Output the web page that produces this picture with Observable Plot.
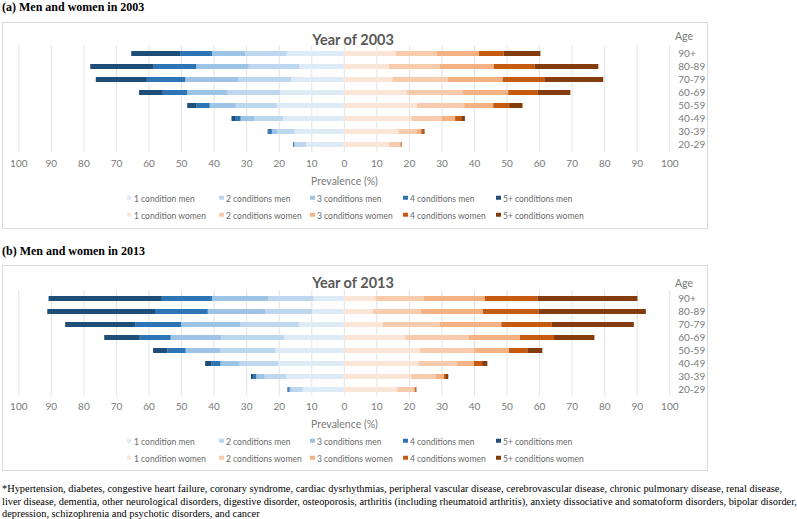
<!DOCTYPE html>
<html><head><meta charset="utf-8">
<script src="https://cdn.jsdelivr.net/npm/d3@7"></script>
<script src="https://cdn.jsdelivr.net/npm/@observablehq/plot@0.6"></script>
<style>
html,body{margin:0;padding:0;background:#fff;}
body{width:797px;height:519px;position:relative;overflow:hidden;font-family:Lato,"Open Sans",sans-serif;}
.heading{position:absolute;left:2px;font-family:"Liberation Serif","Times New Roman",serif;font-weight:bold;font-size:12px;line-height:13px;color:#000;white-space:nowrap;transform:translateY(-50%);}
.frame{position:absolute;left:2px;width:704px;border:1px solid #d9d9d9;}
.frame svg{position:absolute;left:0;top:0;}
.t{position:absolute;white-space:nowrap;color:#595959;line-height:1.2;}
.c{transform:translate(-50%,-50%);}
.l{transform:translateY(-50%);}
.ptitle{font-weight:bold;font-size:14.5px;}
.axlab{font-size:10.5px;}
.leg{font-size:10px;transform-origin:0 50%;}
.sw{position:absolute;width:4.5px;height:4.5px;transform:translateY(-50%);}
.foot{position:absolute;left:2px;font-family:"Liberation Serif","Times New Roman",serif;font-size:10.5px;color:#000;white-space:nowrap;transform-origin:0 50%;}
</style></head>
<body>
<script>
// ---- data ----
const ages = ["90+","80-89","70-79","60-69","50-59","40-49","30-39","20-29"];
const levels = ["1 condition","2 conditions","3 conditions","4 conditions","5+ conditions"];
const tickValues = [-100,-90,-80,-70,-60,-50,-40,-30,-20,-10,0,10,20,30,40,50,60,70,80,90,100];
const menColors = ["#deebf7","#bdd7ee","#9dc3e6","#2e75b6","#1f4e79"];
const womenColors = ["#fbe5d6","#f8cbad","#f4b183","#c55a11","#843c0c"];

// prevalence (%) per age group (rows) for 1,2,3,4,5+ conditions (columns)
const men2003 = [
  [17.5,12.7,10.3,9.8,15.0],
  [13.6,15.6,16.1,13.1,19.5],
  [16.1,16.3,16.3,11.8,15.7],
  [19.5,16.2,12.4,7.5,7.3],
  [20.6,12.6,8.0,4.0,2.9],
  [18.7,8.7,4.3,1.7,1.1],
  [15.1,5.3,1.7,1.0,0.3],
  [11.6,3.4,0.3,0.2,0.1]
];
const women2003 = [
  [15.9,12.7,12.9,7.6,11.3],
  [13.8,15.6,16.7,12.5,19.6],
  [14.9,17.0,16.9,13.0,17.9],
  [19.4,17.1,14.0,9.1,10.0],
  [22.5,14.5,8.9,4.9,4.1],
  [20.8,9.3,4.1,1.9,1.1],
  [16.8,5.5,1.5,0.6,0.4],
  [13.8,3.5,0.2,0.2,0.1]
];
const men2013 = [
  [9.3,13.9,17.3,15.4,34.8],
  [9.8,14.4,17.6,16.2,33.1],
  [13.8,18.0,18.2,14.1,21.5],
  [18.3,19.3,15.6,9.5,10.9],
  [21.0,16.9,10.7,5.6,4.4],
  [20.2,11.8,5.9,2.7,2.0],
  [17.7,6.6,2.6,0.8,0.8],
  [12.6,3.4,0.7,0.4,0.2]
];
const women2013 = [
  [9.7,14.8,18.8,16.2,30.7],
  [8.9,14.7,19.1,17.2,32.9],
  [12.0,17.4,19.0,15.5,25.2],
  [18.9,19.4,15.8,10.5,12.4],
  [23.3,16.8,10.6,5.7,4.6],
  [23.1,11.7,5.2,2.5,1.6],
  [20.7,7.5,2.5,0.7,0.7],
  [16.4,5.0,0.4,0.3,0.2]
];
const footLines = [
  "*Hypertension, diabetes, congestive heart failure, coronary syndrome, cardiac dysrhythmias, peripheral vascular disease, cerebrovascular disease, chronic pulmonary disease, renal disease,",
  "liver disease, dementia, other neurological disorders, digestive disorder, osteoporosis, arthritis (including rheumatoid arthritis), anxiety dissociative and somatoform disorders, bipolar disorder,",
  "depression, schizophrenia and psychotic disorders, and cancer"
];

// ---- build ----
const menKeys = levels.map(l => l + " men");
const womenKeys = levels.map(l => l + " women");

function makeRows(men, women) {
  const rows = [];
  ages.forEach((age, i) => levels.forEach((lv, j) => rows.push({age, key: menKeys[j], value: -men[i][j]})));
  ages.forEach((age, i) => levels.forEach((lv, j) => rows.push({age, key: womenKeys[j], value: women[i][j]})));
  return rows;
}

function el(tag, cls, parent, css, text) {
  const e = document.createElement(tag);
  if (cls) e.className = cls;
  if (css) Object.assign(e.style, css);
  if (text != null) e.textContent = text;
  parent.appendChild(e);
  return e;
}

// legend text condensed so that "2 conditions women" is ~75.7px wide
const probe = el("span", "t leg", document.body, {left: "0px", top: "-100px"}, "2 conditions women");
const legScale = 75.7 / probe.getBoundingClientRect().width;
probe.remove();

function panel(cfg) {
  el("div", "heading", document.body, {top: cfg.headY + "px"}, cfg.heading);
  const frame = el("div", "frame", document.body, {top: cfg.top + "px", height: cfg.h + "px"});
  const H = 152;
  const svg = Plot.plot({
    width: 704, height: H,
    marginLeft: 15.3, marginRight: 37.7,
    marginTop: cfg.gridTop, marginBottom: H - cfg.gridBottom,
    x: {domain: [-100, 100], axis: null},
    y: {domain: ages, range: [cfg.r0, cfg.r1], padding: 0.63, axis: null},
    color: {domain: [...menKeys, ...womenKeys], range: [...menColors, ...womenColors]},
    style: {fontFamily: "Lato, sans-serif", fontSize: "10px", background: "transparent", overflow: "visible"},
    marks: [
      Plot.ruleX(tickValues, {x: d => d, stroke: "#e3e3e3", strokeWidth: 1}),
      Plot.barX(makeRows(cfg.men, cfg.women), Plot.stackX({x: "value", y: "age", fill: "key", order: null})),
      Plot.text(tickValues, {x: d => d, text: d => String(Math.abs(d)), frameAnchor: "bottom", dy: 14, fill: "#7a7a7a", fontSize: 10}),
      Plot.text(ages, {y: d => d, text: d => d, frameAnchor: "right", dx: 8.5, textAnchor: "start", fill: "#7a7a7a", fontSize: 10})
    ]
  });
  frame.appendChild(svg);
  el("div", "t c ptitle", frame, {left: "350px", top: "16.5px"}, cfg.title);
  el("div", "t l axlab", frame, {left: "672px", top: cfg.ageY + "px", color: "#7a7a7a"}, "Age");
  el("div", "t c axlab", frame, {left: "341.5px", top: "158px", color: "#7a7a7a"}, "Prevalence (%)");
  const xs = [123.7, 216, 307, 400, 493];
  [[menKeys, menColors, 174.5], [womenKeys, womenColors, 191.5]].forEach(([keys, cols, y]) => {
    keys.forEach((k, j) => {
      el("div", "sw", frame, {left: xs[j] + "px", top: y + "px", background: cols[j]});
      el("div", "t leg", frame, {left: (xs[j] + 7.3) + "px", top: y + "px", color: "#6a6a6a",
        transform: `translateY(-50%) scaleX(${legScale})`}, k);
    });
  });
}

panel({heading: "(a) Men and women in 2003", headY: 6.5, top: 22, h: 205, title: "Year of 2003",
  men: men2003, women: women2003, r0: 17.6, r1: 135.1, gridTop: 22, gridBottom: 129, ageY: 13});
panel({heading: "(b) Men and women in 2013", headY: 251, top: 265, h: 204, title: "Year of 2013",
  men: men2013, women: women2013, r0: 20.4, r1: 135.6, gridTop: 24, gridBottom: 129.5, ageY: 16.7});

// footnote: one common horizontal condensation so line 1 spans ~780px
const footY = [488, 501, 513.5];
const foots = footLines.map((line, i) => el("div", "foot", document.body, {top: (footY[i] - 6.5) + "px", lineHeight: "13px"}, line));
const fscale = 780 / foots[0].getBoundingClientRect().width;
foots.forEach(d => { d.style.transform = `scaleX(${fscale})`; });
</script>
</body></html>
